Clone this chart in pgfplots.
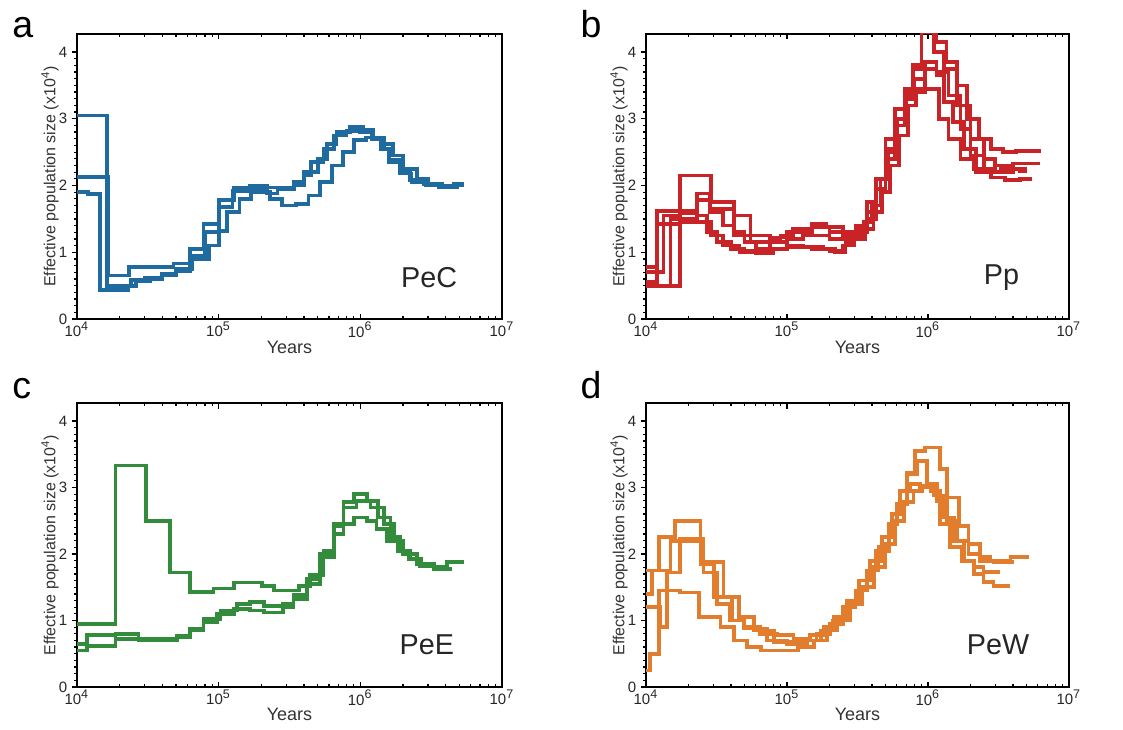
\documentclass[border=0pt]{standalone}
\usepackage{pgfplots}
\pgfplotsset{compat=1.18}
\usepackage{fontspec}
\setmainfont{Liberation Sans}
\definecolor{cblue}{RGB}{31,106,159}
\definecolor{cred}{RGB}{200,36,40}
\definecolor{cgreen}{RGB}{50,140,60}
\definecolor{corange}{RGB}{226,125,45}
\pgfplotsset{
  every axis/.append style={
    scale only axis,
    xmin=1e4, xmax=1e7, ymin=0, ymax=4.27,
    xtick={1e4,1e5,1e6,1e7},
    xticklabels={10\textsuperscript{4},10\textsuperscript{5},10\textsuperscript{6},10\textsuperscript{7}},
    ytick={0,1,2,3,4}, yticklabels={0,1,2,3,4},
    minor y tick num=9,
    ytick pos=left,
    xtick align=inside, ytick align=outside,
    major tick length=2.2pt, minor tick length=1.2pt,
    tick style={black, line width=0.5pt},
    axis line style={line width=0.75pt},
    tick label style={font=\fontsize{6}{7}\selectfont, text=black!85},
    xticklabel style={inner sep=1pt},
    yticklabel style={inner sep=1.5pt},
    xlabel={Years}, ylabel={Effective population size (x10\textsuperscript{4})},
    every axis x label/.style={at={(axis description cs:0.5,-0.098)}, anchor=center, font=\fontsize{7.2}{8}\selectfont, text=black!80},
    every axis y label/.style={at={(axis description cs:-0.0635,0.5)}, rotate=90, anchor=center, font=\fontsize{6.4}{7}\selectfont, text=black!80},
  },
  cp/.style={const plot, line width=1.5pt, mark=none},
}
\tikzset{
  pname/.style={anchor=east, font=\fontsize{11.5}{12}\selectfont, text=black!85},
  plab/.style={anchor=base west, inner sep=0pt, font=\fontsize{15}{16}\selectfont},
}
\begin{document}
\begin{tikzpicture}
\path (0,0) rectangle (449.2pt,290.8pt);
% panel a
\begin{semilogxaxis}[width=170pt, height=114pt, at={(30.8pt,163.2pt)}, anchor=south west]
\addplot[cp, cblue] coordinates {(1e4,2.13)(1.67e4,0.65)(2.32e4,0.78)(4.8e4,0.83)(6.3e4,1.05)(7.8e4,1.42)(1e5,1.78)(1.28e5,1.97)(1.67e5,2.0)(2.2e5,1.97)(3.4e5,2.05)(4e5,2.2)(5e5,2.4)(5.8e5,2.62)(6.8e5,2.8)(8.5e5,2.88)(1.05e6,2.83)(1.24e6,2.72)(1.46e6,2.55)(1.6e6,2.38)(1.92e6,2.2)(2.25e6,2.08)(2.8e6,2.02)(3.67e6,2.0)(4.6e6,2.03)(5.36e6,2.03)};
\addplot[cp, cblue] coordinates {(1e4,3.05)(1.63e4,0.5)(2.4e4,0.58)(3e4,0.62)(4e4,0.68)(5e4,0.72)(6.3e4,0.95)(8e4,1.3)(1e5,1.68)(1.25e5,1.92)(1.6e5,1.95)(2.2e5,1.88)(2.6e5,1.95)(3.4e5,2.0)(4e5,2.15)(4.5e5,2.35)(5.5e5,2.55)(6.5e5,2.75)(8e5,2.82)(1e6,2.8)(1.2e6,2.7)(1.4e6,2.55)(1.6e6,2.35)(1.9e6,2.18)(2.3e6,2.05)(2.9e6,2.0)(3.6e6,1.97)(4.6e6,2.0)(5.3e6,2.0)};
\addplot[cp, cblue] coordinates {(1e4,1.9)(1.2e4,1.87)(1.46e4,0.43)(2.3e4,0.5)(2.6e4,0.57)(3.3e4,0.6)(4e4,0.65)(5e4,0.75)(6.5e4,0.9)(8.5e4,1.1)(1e5,1.32)(1.15e5,1.6)(1.4e5,1.8)(1.7e5,1.9)(2.3e5,1.8)(2.8e5,1.7)(3.5e5,1.72)(4.3e5,1.85)(5.2e5,2.05)(6.3e5,2.3)(7.5e5,2.5)(9e5,2.68)(1.1e6,2.72)(1.4e6,2.62)(1.7e6,2.45)(2e6,2.25)(2.5e6,2.1)(3e6,2.02)(3.8e6,1.97)(4.8e6,2.0)(5.4e6,2.0)};
\node[pname] at (axis description cs:0.915,0.147) {PeC};
\end{semilogxaxis}
% panel b
\begin{semilogxaxis}[width=169.2pt, height=114pt, at={(258.4pt,163.2pt)}, anchor=south west]
\addplot[cp, cred] coordinates {(1e4,0.5)(1.75e4,2.15)(2.9e4,1.75)(4.2e4,1.55)(5.5e4,1.25)(7.6e4,1.2)(9e4,1.25)(1.1e5,1.35)(1.5e5,1.42)(1.9e5,1.38)(2.5e5,1.3)(3.1e5,1.35)(3.7e5,1.6)(4.3e5,1.95)(5e5,2.4)(5.8e5,2.9)(6.8e5,3.3)(7.8e5,3.8)(9e5,4.3)(1.15e6,4.15)(1.35e6,3.85)(1.6e6,3.5)(1.9e6,3.0)(2.3e6,2.7)(2.8e6,2.55)(3.4e6,2.5)(4.2e6,2.52)(6.3e6,2.52)};
\addplot[cp, cred] coordinates {(1e4,0.78)(1.2e4,1.62)(2.3e4,1.88)(2.86e4,1.6)(3.5e4,1.4)(4.2e4,1.25)(5.5e4,1.15)(7.6e4,1.22)(1e5,1.3)(1.5e5,1.38)(2e5,1.3)(2.5e5,1.25)(3.1e5,1.4)(3.7e5,1.75)(4.3e5,2.1)(5e5,2.7)(5.8e5,3.15)(6.8e5,3.45)(7.8e5,3.75)(9e5,4.3)(1.1e6,4.0)(1.3e6,3.75)(1.6e6,3.2)(2e6,2.7)(2.5e6,2.4)(3e6,2.3)(4e6,2.33)(6.2e6,2.33)};
\addplot[cp, cred] coordinates {(1e4,0.7)(1.33e4,1.55)(1.75e4,1.58)(2.3e4,1.78)(2.86e4,1.65)(4.2e4,1.3)(5e4,1.15)(6e4,1.05)(7.6e4,1.15)(1e5,1.2)(1.3e5,1.25)(2e5,1.2)(2.5e5,1.2)(3e5,1.3)(3.7e5,1.5)(4.3e5,1.95)(5e5,2.5)(5.8e5,3.0)(6.8e5,3.4)(8e5,3.6)(9.5e5,3.85)(1.15e6,3.7)(1.4e6,3.35)(1.7e6,2.85)(2e6,2.45)(2.5e6,2.25)(3e6,2.2)(4e6,2.25)(5e6,2.25)};
\addplot[cp, cred] coordinates {(1e4,0.55)(1.2e4,1.42)(1.75e4,1.45)(2.3e4,1.55)(2.7e4,1.3)(3.2e4,1.15)(4e4,1.05)(5e4,1.02)(6e4,1.0)(8e4,1.05)(1e5,1.1)(1.3e5,1.08)(1.8e5,1.05)(2.2e5,1.0)(2.6e5,1.15)(3e5,1.25)(3.5e5,1.45)(4e5,1.7)(4.6e5,2.1)(5.2e5,2.55)(6e5,3.0)(7e5,3.35)(8e5,3.45)(9.5e5,3.75)(1.15e6,3.65)(1.3e6,3.25)(1.5e6,2.95)(1.8e6,2.55)(2.2e6,2.2)(2.8e6,2.12)(3.5e6,2.08)(4.5e6,2.1)(5.5e6,2.1)};
\addplot[cp, cred] coordinates {(1e4,0.5)(1.49e4,1.5)(2.3e4,1.45)(2.9e4,1.25)(3.5e4,1.1)(4.6e4,1.0)(6e4,0.98)(8e4,1.05)(1e5,1.08)(1.5e5,1.05)(2e5,1.02)(2.5e5,1.1)(3e5,1.2)(3.6e5,1.35)(4.1e5,1.6)(4.7e5,1.9)(5.4e5,2.3)(6.2e5,2.75)(7.2e5,3.2)(8.2e5,3.4)(9.5e5,3.45)(1.2e6,3.0)(1.4e6,2.7)(1.7e6,2.4)(2.1e6,2.25)(2.6e6,2.2)(3.3e6,2.25)(4.5e6,2.22)(5e6,2.22)};
\node[pname] at (axis description cs:0.903,0.147) {Pp};
\end{semilogxaxis}
% panel c
\begin{semilogxaxis}[width=170pt, height=113.6pt, at={(30.8pt,16pt)}, anchor=south west]
\addplot[cp, cgreen] coordinates {(1e4,0.95)(1.87e4,3.33)(3.07e4,2.5)(4.56e4,1.72)(6.3e4,1.43)(9.2e4,1.48)(1.28e5,1.57)(2.02e5,1.52)(2.45e5,1.45)(3.67e5,1.52)(4.4e5,1.68)(5.5e5,2.05)(6.5e5,2.42)(7.6e5,2.78)(8.97e5,2.9)(1.11e6,2.8)(1.34e6,2.55)(1.63e6,2.25)(1.92e6,2.05)(2.25e6,1.92)(2.7e6,1.85)(3.3e6,1.8)(4.1e6,1.88)(5.36e6,1.88)};
\addplot[cp, cgreen] coordinates {(1e4,0.65)(1.18e4,0.78)(1.87e4,0.8)(2.72e4,0.73)(3.67e4,0.72)(5.1e4,0.77)(6.3e4,0.88)(7.8e4,1.02)(1.03e5,1.15)(1.35e5,1.25)(1.67e5,1.28)(2.08e5,1.22)(2.85e5,1.25)(3.37e5,1.38)(4.2e5,1.62)(5.2e5,2.0)(6.5e5,2.45)(7.6e5,2.7)(9.4e5,2.8)(1.18e6,2.7)(1.46e6,2.45)(1.72e6,2.2)(2e6,2.0)(2.5e6,1.85)(3.3e6,1.78)(4.4e6,1.78)};
\addplot[cp, cgreen] coordinates {(1e4,0.55)(1.18e4,0.62)(1.87e4,0.72)(2.72e4,0.7)(5.1e4,0.75)(6.3e4,0.85)(7.8e4,0.98)(9.7e4,1.1)(1.28e5,1.17)(1.67e5,1.15)(2.08e5,1.12)(2.85e5,1.2)(3.37e5,1.32)(4.2e5,1.55)(5.2e5,1.95)(6.5e5,2.3)(7.6e5,2.45)(8.97e5,2.55)(1.11e6,2.5)(1.3e6,2.38)(1.55e6,2.2)(1.85e6,2.05)(2.2e6,1.92)(2.65e6,1.82)(3.3e6,1.77)(4.4e6,1.77)};
\node[pname] at (axis description cs:0.908,0.148) {PeE};
\end{semilogxaxis}
% panel d
\begin{semilogxaxis}[width=169.2pt, height=113.6pt, at={(258.4pt,16pt)}, anchor=south west]
\addplot[cp, corange] coordinates {(1e4,0.25)(1.07e4,0.5)(1.23e4,1.45)(1.75e4,1.42)(2.37e4,1.05)(3.37e4,0.9)(4.19e4,0.7)(5.2e4,0.6)(6.5e4,0.55)(1.2e5,0.6)(1.55e5,0.7)(1.92e5,0.85)(2.26e5,1.0)(2.81e5,1.25)(3.4e5,1.5)(4.12e5,1.8)(4.98e5,2.15)(5.86e5,2.5)(6.72e5,2.78)(7.9e5,2.95)(9.06e5,3.02)(1.1e6,2.88)(1.29e6,2.55)(1.52e6,2.2)(1.79e6,1.9)(2.11e6,1.7)(2.48e6,1.58)(2.92e6,1.52)(3.84e6,1.52)};
\addplot[cp, corange] coordinates {(1e4,1.4)(1.1e4,1.75)(1.49e4,2.2)(2.43e4,1.85)(3.02e4,1.35)(4.07e4,1.0)(4.93e4,0.9)(6.46e4,0.8)(8.5e4,0.78)(1.11e5,0.72)(1.46e5,0.78)(1.82e5,0.9)(2.14e5,1.05)(2.66e5,1.3)(3.23e5,1.6)(3.9e5,1.9)(4.7e5,2.25)(5.55e5,2.6)(6.36e5,2.95)(7.5e5,3.05)(8.8e5,3.0)(1.04e6,2.95)(1.22e6,2.45)(1.43e6,2.1)(1.74e6,1.9)(2.11e6,1.8)(2.48e6,1.73)(3.26e6,1.73)};
\addplot[cp, corange] coordinates {(1e4,1.75)(1.23e4,2.25)(1.61e4,2.5)(2.43e4,1.88)(3.55e4,1.35)(4.54e4,1.05)(5.8e4,0.85)(8.04e4,0.68)(1.24e5,0.7)(1.62e5,0.8)(2.02e5,0.95)(2.52e5,1.2)(3.06e5,1.45)(3.69e5,1.75)(4.45e5,2.1)(5.26e5,2.45)(6.03e5,2.75)(7.1e5,3.22)(8.1e5,3.55)(9.56e5,3.6)(1.22e6,3.28)(1.36e6,2.85)(1.65e6,2.42)(1.94e6,2.15)(2.35e6,1.95)(2.77e6,1.9)(3.84e6,1.95)(5.18e6,1.95)};
\addplot[cp, corange] coordinates {(1e4,1.2)(1.26e4,0.9)(1.41e4,1.72)(1.75e4,2.22)(2.56e4,1.72)(3.19e4,1.25)(3.96e4,1.0)(4.93e4,0.88)(7.2e4,0.7)(1e5,0.65)(1.4e5,0.7)(1.75e5,0.85)(2.1e5,1.0)(2.5e5,1.2)(3.06e5,1.45)(3.69e5,1.75)(4.3e5,2.05)(5.26e5,2.45)(6.03e5,2.75)(7.1e5,3.2)(8.4e5,3.4)(9.8e5,3.05)(1.16e6,2.8)(1.36e6,2.5)(1.6e6,2.2)(1.94e6,2.0)(2.35e6,1.9)(2.92e6,1.88)(4.05e6,1.88)};
\node[pname] at (axis description cs:0.927,0.148) {PeW};
\end{semilogxaxis}
\node[plab] at (4.8pt,275.6pt) {a};
\node[plab] at (232pt,275.6pt) {b};
\node[plab] at (4.8pt,131.6pt) {c};
\node[plab] at (232pt,131.6pt) {d};
\end{tikzpicture}
\end{document}
